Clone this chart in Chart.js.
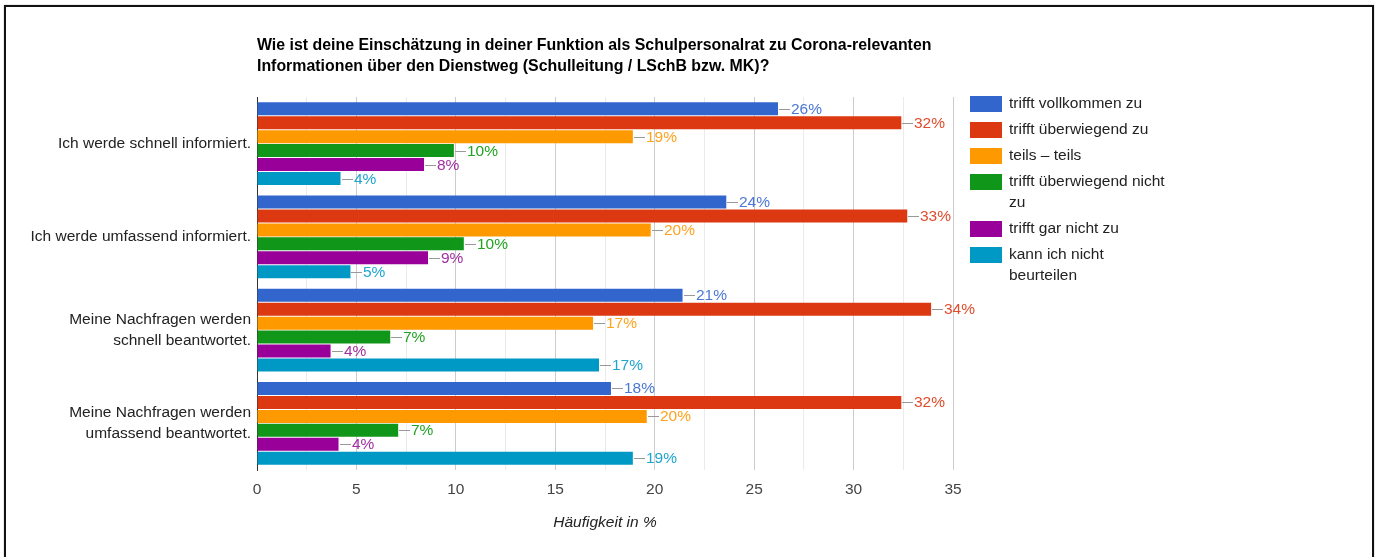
<!DOCTYPE html>
<html lang="de">
<head>
<meta charset="UTF-8">
<title>Schulpersonalrat – Dienstweg</title>
<script src="https://cdn.jsdelivr.net/npm/chart.js@4/dist/chart.umd.min.js"></script>
<style>
  html, body { margin: 0; padding: 0; background: #fff; overflow: hidden; }
  .frame {
    position: absolute; left: 4px; top: 5px; width: 1366px; height: 600px;
    border: 2px solid #111; box-shadow: 0 0 1px #888;
  }
  .wrap { position: absolute; left: 0; top: 0; width: 1376px; height: 557px; }
</style>
</head>
<body>
<div class="frame"></div>
<div class="wrap"><canvas id="chart" width="1376" height="557"></canvas></div>
<script>
// Daten
const categories = [
  ['Ich werde schnell informiert.'],
  ['Ich werde umfassend informiert.'],
  ['Meine Nachfragen werden', 'schnell beantwortet.'],
  ['Meine Nachfragen werden', 'umfassend beantwortet.']
];
const seriesNames = [
  'trifft vollkommen zu',
  'trifft überwiegend zu',
  'teils – teils',
  'trifft überwiegend nicht zu',
  'trifft gar nicht zu',
  'kann ich nicht beurteilen'
];
const vollkommen = [26.2, 23.6, 21.4, 17.8];
const ueberwiegend = [32.4, 32.7, 33.9, 32.4];
const teilsTeils = [18.9, 19.8, 16.9, 19.6];
const ueberwiegendNicht = [9.9, 10.4, 6.7, 7.1];
const garNicht = [8.4, 8.6, 3.7, 4.1];
const nichtBeurteilen = [4.2, 4.7, 17.2, 18.9];
const xTicks = [0, 5, 10, 15, 20, 25, 30, 35];

const barColors = ['#3366cc', '#dc3912', '#ff9900', '#109618', '#990099', '#0099c6'];
const labelColors = ['#4b78d6', '#e04b2c', '#ffa31f', '#22a222', '#a22ea2', '#1ea6cf'];
const FONT = '"Liberation Sans", Arial, sans-serif';
const FS = 15.5;

const seriesValues = [vollkommen, ueberwiegend, teilsTeils, ueberwiegendNicht, garNicht, nichtBeurteilen];

const datasets = seriesValues.map((vals, i) => ({
  label: seriesNames[i],
  data: vals,
  backgroundColor: barColors[i],
  borderWidth: 0,
  categoryPercentage: 0.9,
  barPercentage: 0.93
}));

// Prozentwerte hinter den Balken
const barLabels = {
  id: 'barLabels',
  afterDatasetsDraw(chart) {
    const ctx = chart.ctx;
    ctx.save();
    ctx.font = FS + 'px ' + FONT;
    ctx.textBaseline = 'middle';
    ctx.textAlign = 'left';
    chart.data.datasets.forEach((ds, i) => {
      chart.getDatasetMeta(i).data.forEach((bar, j) => {
        const x = Math.round(bar.x), y = Math.round(bar.y) + 0.5;
        ctx.strokeStyle = '#999';
        ctx.lineWidth = 1;
        ctx.beginPath();
        ctx.moveTo(x + 1, y);
        ctx.lineTo(x + 12, y);
        ctx.stroke();
        ctx.fillStyle = labelColors[i];
        ctx.fillText(Math.round(ds.data[j]) + '%', x + 13, y);
      });
    });
    ctx.restore();
  }
};

// Titel, Achsentitel, Legende
const extras = {
  id: 'extras',
  afterDraw(chart) {
    const ctx = chart.ctx;
    const area = chart.chartArea;
    ctx.save();
    ctx.fillStyle = '#000';
    ctx.font = 'bold 15.9px ' + FONT;
    ctx.textBaseline = 'middle';
    ctx.textAlign = 'left';
    ctx.fillText('Wie ist deine Einschätzung in deiner Funktion als Schulpersonalrat zu Corona-relevanten', area.left, 46);
    ctx.fillText('Informationen über den Dienstweg (Schulleitung / LSchB bzw. MK)?', area.left, 67);

    ctx.font = 'italic ' + FS + 'px ' + FONT;
    ctx.fillStyle = '#222';
    ctx.textAlign = 'center';
    ctx.fillText('Häufigkeit in %', (area.left + area.right) / 2, 523);

    // Legende
    ctx.font = FS + 'px ' + FONT;
    ctx.textAlign = 'left';
    let y = 104;
    seriesNames.forEach((name, i) => {
      ctx.fillStyle = barColors[i];
      ctx.fillRect(970, y - 8, 32, 16);
      ctx.fillStyle = '#222';
      const words = name.split(' ');
      const lines = [];
      let line = '';
      words.forEach(w => {
        const test = line ? line + ' ' + w : w;
        if (line && ctx.measureText(test).width > 162) {
          lines.push(line);
          line = w;
        } else {
          line = test;
        }
      });
      lines.push(line);
      lines.forEach((l, k) => ctx.fillText(l, 1009, y + k * 21));
      y += 26 + (lines.length - 1) * 21;
    });
    ctx.restore();
  }
};

new Chart(document.getElementById('chart'), {
  type: 'bar',
  data: { labels: categories, datasets: datasets },
  plugins: [barLabels, extras],
  options: {
    indexAxis: 'y',
    responsive: false,
    animation: false,
    layout: { padding: { top: 97, right: 423, bottom: 0, left: 0 } },
    plugins: {
      legend: { display: false },
      title: { display: false },
      tooltip: { enabled: false }
    },
    scales: {
      x: {
        min: 0,
        max: 35,
        afterFit(scale) { scale.height = 87; },
        border: { display: false },
        grid: {
          drawTicks: false,
          color: (c) => c.tick.value === 0 ? '#333' : (xTicks.includes(c.tick.value) ? '#cccccc' : '#ebebeb')
        },
        ticks: {
          stepSize: 2.5,
          autoSkip: false,
          maxRotation: 0,
          padding: 10,
          color: '#444',
          font: { family: FONT, size: FS },
          callback: (v) => xTicks.includes(v) ? String(v) : ''
        }
      },
      y: {
        afterFit(scale) { scale.width = 257; },
        border: { display: true, color: '#333', width: 1 },
        grid: { display: false, drawTicks: false },
        ticks: {
          padding: 6,
          color: '#222',
          font: { family: FONT, size: FS, lineHeight: 21 / FS }
        }
      }
    }
  }
});
</script>
</body>
</html>
